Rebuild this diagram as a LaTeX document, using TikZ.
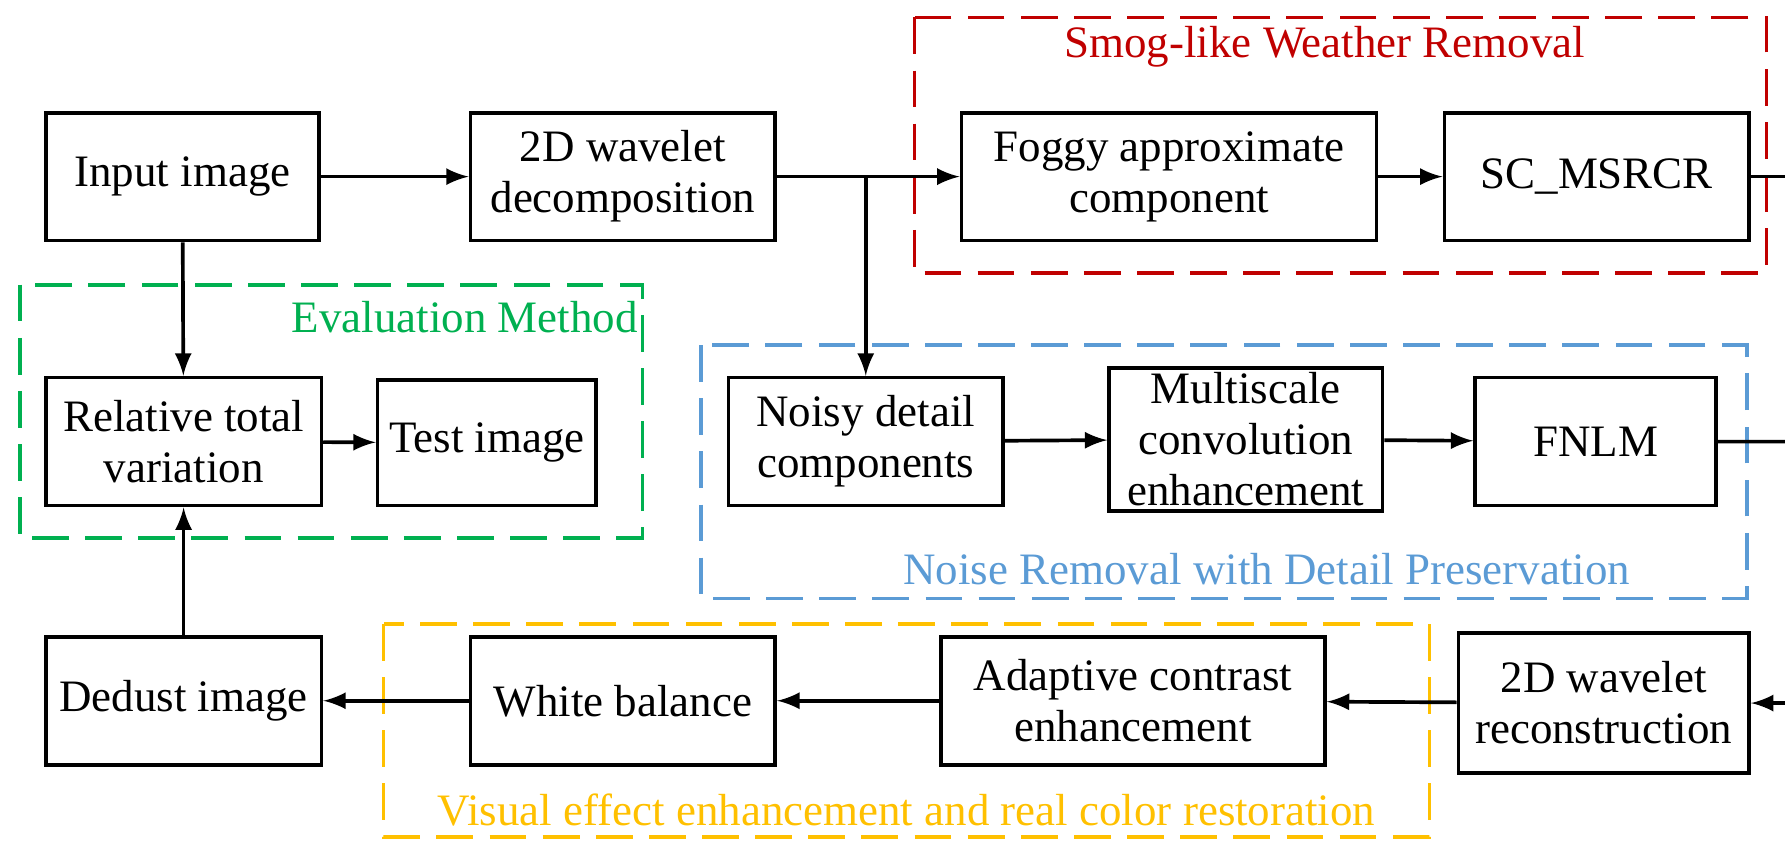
\documentclass[tikz,border=0pt]{standalone}
\usepackage{fontspec}
\setmainfont{Liberation Serif}
\begin{document}
\begin{tikzpicture}[x=0.01cm,y=-0.01cm,
  box/.style={draw,line width=0.9pt,align=center,font=\fontsize{11}{12.5}\selectfont,inner sep=0pt},
  grp/.style={line width=0.9pt,dash pattern=on 9pt off 4pt},
  ttl/.style={font=\fontsize{11}{12.5}\selectfont},
  ln/.style={line width=0.9pt},
  arr/.style={ln,-latex}]
\useasboundingbox (0,0) rectangle (1536,725);
\definecolor{cred}{RGB}{192,0,0}
\definecolor{cgreen}{RGB}{0,176,80}
\definecolor{cblue}{RGB}{91,155,213}
\definecolor{cyel}{RGB}{255,192,0}
% groups
\draw[grp,cred] (787,15) rectangle (1520,235);
\node[ttl,text=cred] (t1) at (1140,40) {Smog-like Weather Removal};
\draw[grp,cgreen] (17,245) rectangle (553,463);
\node[ttl,text=cgreen] (t2) at (400,273) {Evaluation Method};
\draw[grp,cblue] (603,297) rectangle (1503,515);
\node[ttl,text=cblue] (t3) at (1090,490) {Noise Removal with Detail Preservation};
\draw[grp,cyel] (330,537) rectangle (1230,720);
\node[ttl,text=cyel] (t4) at (780,697) {Visual effect enhancement and real color restoration};
% boxes
\node[box,minimum width=2.35cm,minimum height=1.1cm] (in) at (157,152) {Input image};
\node[box,minimum width=2.62cm,minimum height=1.1cm] (dec) at (536,152) {2D wavelet\\decomposition};
\node[box,minimum width=3.57cm,minimum height=1.1cm] (fog) at (1006,152) {Foggy approximate\\component};
\node[box,minimum width=2.62cm,minimum height=1.1cm] (sc) at (1374,152) {SC\_MSRCR};
\node[box,minimum width=2.37cm,minimum height=1.1cm] (rtv) at (158,380) {Relative total\\variation};
\node[box,minimum width=1.88cm,minimum height=1.08cm] (test) at (419,381) {Test image};
\node[box,minimum width=2.36cm,minimum height=1.1cm] (noisy) at (745,380) {Noisy detail\\components};
\node[box,minimum width=2.35cm,minimum height=1.23cm] (multi) at (1072,378) {Multiscale\\convolution\\enhancement};
\node[box,minimum width=2.07cm,minimum height=1.1cm] (fnlm) at (1373,380) {FNLM};
\node[box,minimum width=2.37cm,minimum height=1.1cm] (dust) at (158,603) {Dedust image};
\node[box,minimum width=2.62cm,minimum height=1.1cm] (wb) at (536,603) {White balance};
\node[box,minimum width=3.3cm,minimum height=1.1cm] (ace) at (975,603) {Adaptive contrast\\enhancement};
\node[box,minimum width=2.5cm,minimum height=1.2cm] (rec) at (1380,605) {2D wavelet\\reconstruction};
% connectors
\coordinate (br) at (745,152);
\coordinate (c1) at (1330,152);
\coordinate (c1) at (1331,152);
\coordinate (c1) at (1332,152);
\coordinate (c1) at (1333,152);
\coordinate (c1) at (1334,152);
\coordinate (c1) at (1335,152);
\coordinate (c1) at (1336,152);
\coordinate (c1) at (1337,152);
\coordinate (c1) at (1338,152);
\coordinate (c1) at (1339,152);
\coordinate (c1) at (1340,152);
\coordinate (c1) at (1548,152);
\coordinate (c2) at (1548,605);
\coordinate (j1) at (1541,380);
\draw[arr] (in) -- (dec);
\draw[arr] (dec) -- (fog);
\draw[arr] (br) -- (noisy);
\draw[arr] (fog) -- (sc);
\draw[arr] (sc.east) -- (c1) -- (c2) -- (rec.east);
\draw[arr] (noisy) -- (multi);
\draw[arr] (multi) -- (fnlm);
\draw[ln] (fnlm.east) -- (j1) arc[start angle=180,end angle=360,radius=7];
\draw[arr] (in) -- (rtv);
\draw[arr] (rtv) -- (test);
\draw[arr] (rec) -- (ace);
\draw[arr] (ace) -- (wb);
\draw[arr] (wb) -- (dust);
\draw[arr] (dust) -- (rtv);
\end{tikzpicture}
\end{document}
